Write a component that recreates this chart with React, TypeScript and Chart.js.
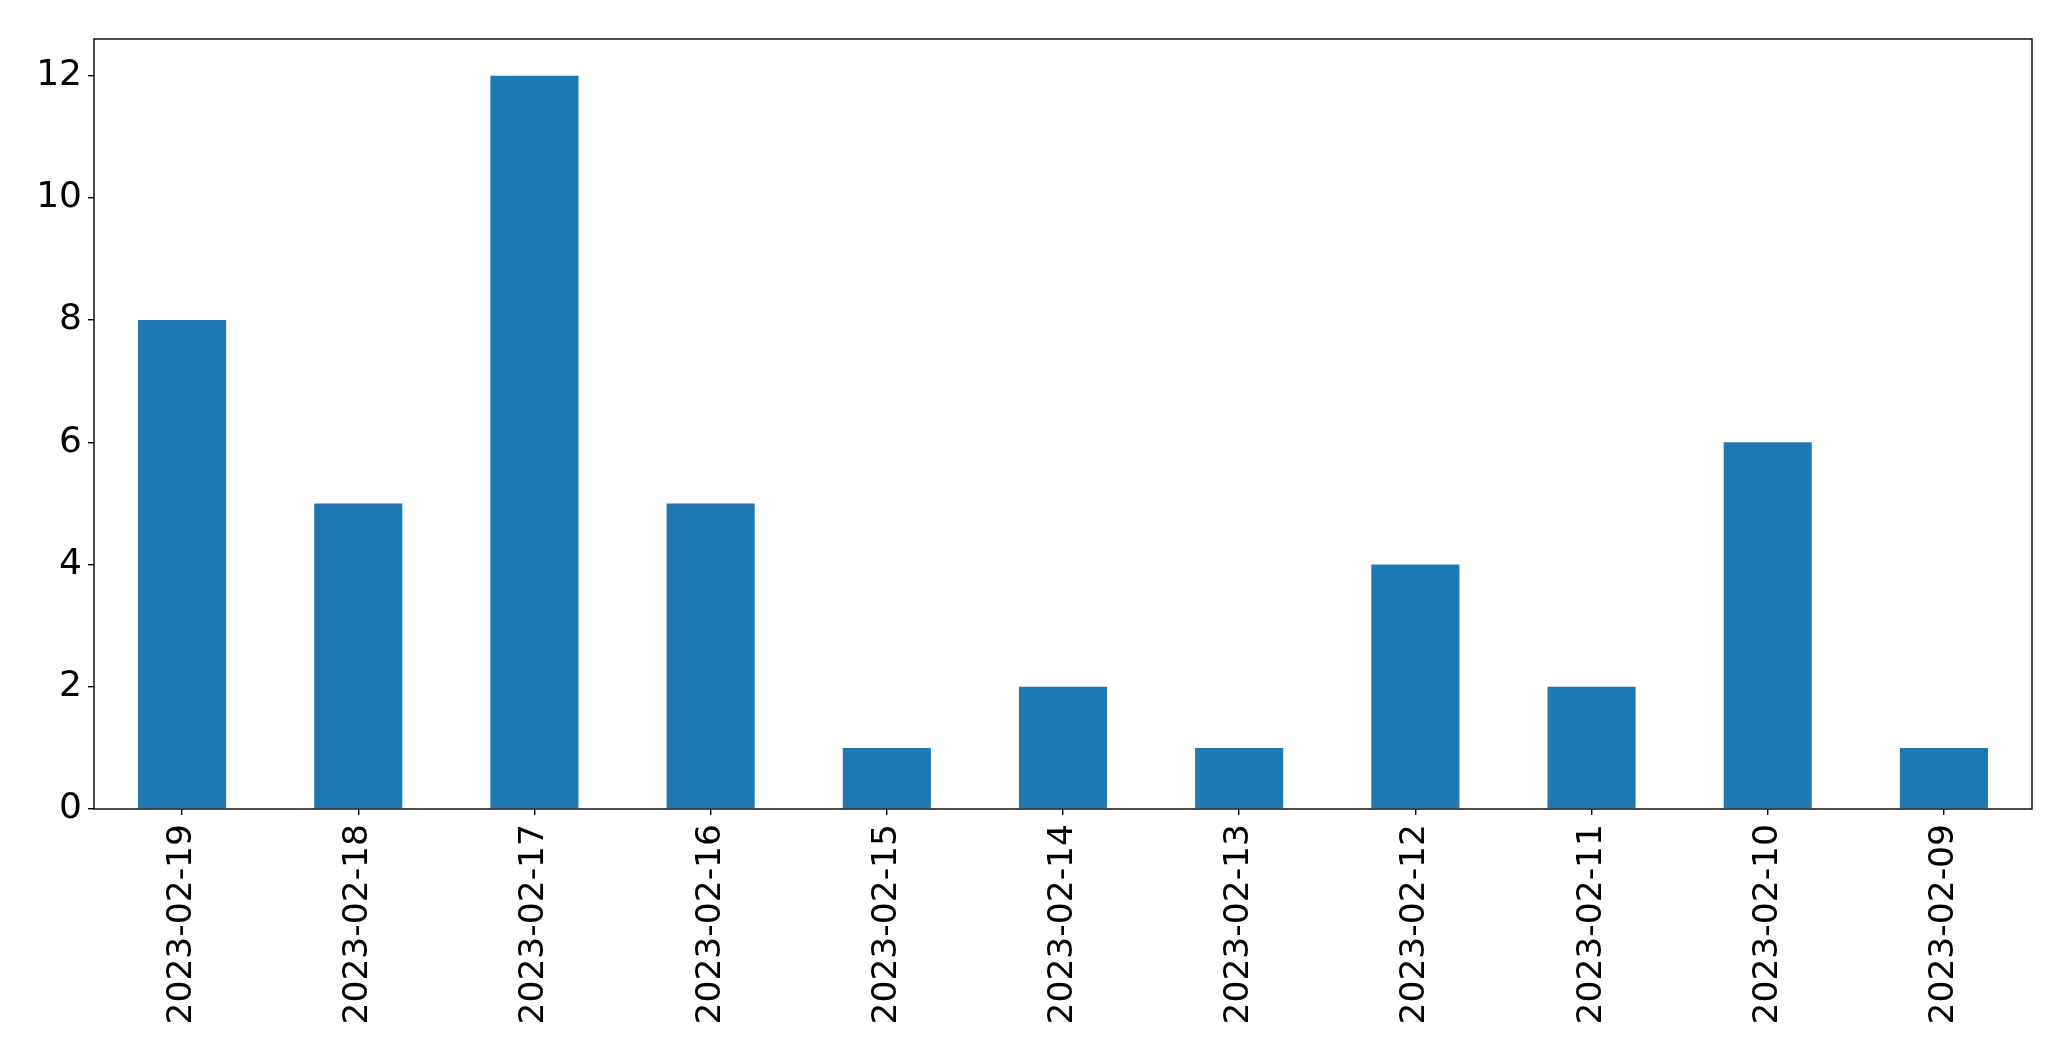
import React, { useEffect, useRef } from "react";
import { Chart, registerables } from "chart.js";

Chart.register(...registerables);

const categories = [
  "2023-02-19",
  "2023-02-18",
  "2023-02-17",
  "2023-02-16",
  "2023-02-15",
  "2023-02-14",
  "2023-02-13",
  "2023-02-12",
  "2023-02-11",
  "2023-02-10",
  "2023-02-09",
];
const counts = [8, 5, 12, 5, 1, 2, 1, 4, 2, 6, 1];
const yTicks = [0, 2, 4, 6, 8, 10, 12];
const yMax = 12.6;

const W = 2071;
const H = 1061;
const FONT = "'DejaVu Sans', sans-serif";

const frame = {
  id: "frame",
  afterDraw(chart: any) {
    const { ctx, chartArea: a } = chart;
    ctx.save();
    ctx.strokeStyle = "#000";
    ctx.lineWidth = 1.4;
    ctx.strokeRect(a.left, a.top, a.right - a.left, a.bottom - a.top);
    ctx.restore();
  },
};

export default function App() {
  const ref = useRef<HTMLCanvasElement | null>(null);
  useEffect(() => {
    if (!ref.current) return;
    const chart = new Chart(ref.current, {
      type: "bar",
      data: {
        labels: categories,
        datasets: [
          {
            data: counts,
            backgroundColor: "#1f77b4",
            borderWidth: 0,
            barPercentage: 0.5,
            categoryPercentage: 1,
          },
        ],
      },
      options: {
        responsive: false,
        animation: false,
        devicePixelRatio: 1,
        layout: { padding: { left: 0, top: 39, right: 39, bottom: 0 } },
        plugins: { legend: { display: false }, tooltip: { enabled: false } },
        scales: {
          x: {
            offset: true,
            grid: {
              display: true,
              offset: false,
              drawOnChartArea: false,
              drawTicks: true,
              tickLength: 6,
              color: "#000",
              lineWidth: 1.4,
            },
            border: { display: false },
            ticks: {
              color: "#000",
              font: { family: FONT, size: 34.5 },
              maxRotation: 90,
              minRotation: 90,
              autoSkip: false,
              padding: 9,
            },
            afterFit: (s: any) => {
              s.height = H - 809;
            },
          },
          y: {
            min: 0,
            max: yMax,
            grid: {
              display: true,
              drawOnChartArea: false,
              drawTicks: true,
              tickLength: 6,
              color: "#000",
              lineWidth: 1.4,
            },
            border: { display: false },
            ticks: {
              color: "#000",
              font: { family: FONT, size: 36 },
              padding: 6,
            },
            afterBuildTicks: (s: any) => {
              s.ticks = yTicks.map((v) => ({ value: v }));
            },
            afterFit: (s: any) => {
              s.width = 94;
            },
          },
        },
      },
      plugins: [frame],
    });
    return () => chart.destroy();
  }, []);
  return (
    <div style={{ position: "absolute", left: 0, top: 0, width: W, height: H, background: "#fff" }}>
      <canvas ref={ref} width={W} height={H} style={{ width: W, height: H, display: "block" }} />
    </div>
  );
}
